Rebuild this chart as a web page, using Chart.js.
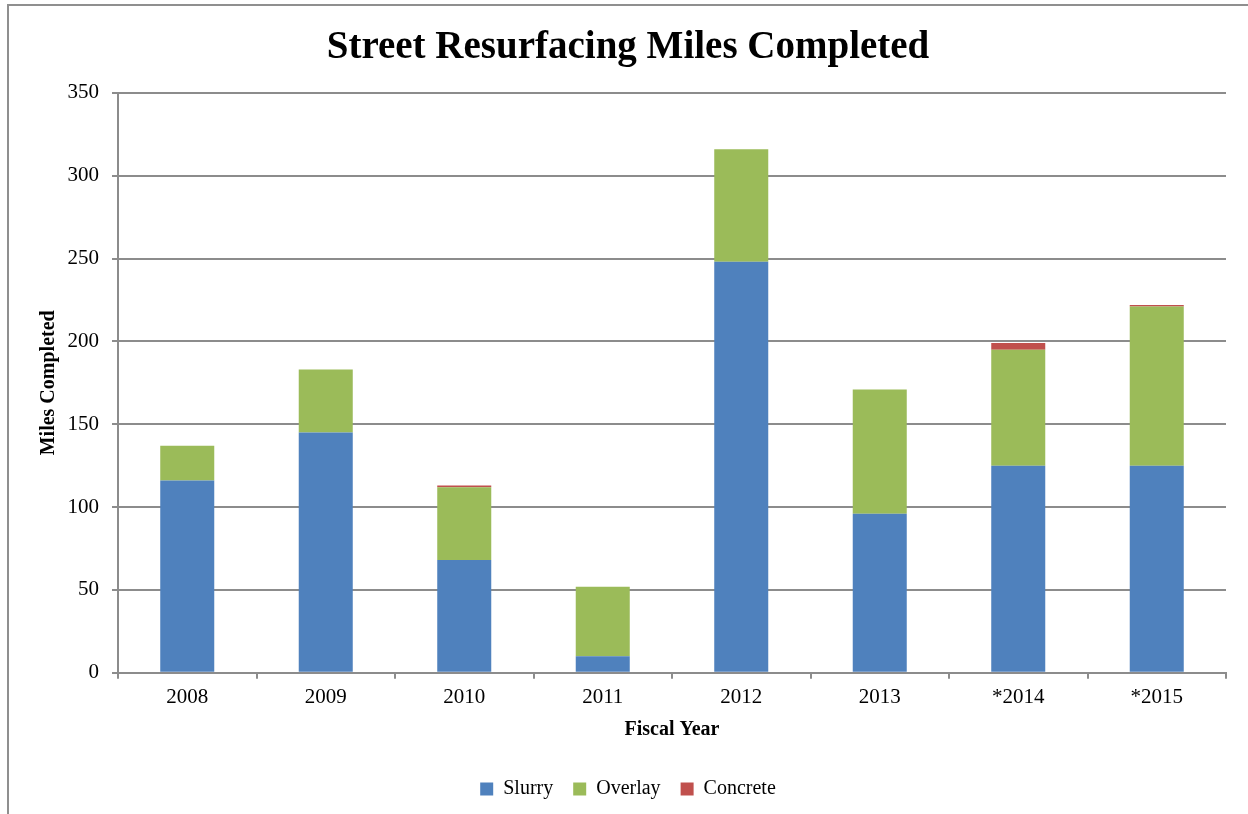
<!DOCTYPE html>
<html>
<head>
<meta charset="utf-8">
<script src="https://cdn.jsdelivr.net/npm/chart.js@4"></script>
<style>
  html, body { margin: 0; padding: 0; background: #fff; overflow: hidden; }
  #frame { position: absolute; left: 7px; top: 4px; width: 1400px; height: 1000px; border: 2px solid #8f8f8f; }
  #wrap { position: absolute; left: 0; top: 0; width: 1248px; height: 814px; }
</style>
</head>
<body>
<div id="frame"></div>
<div id="wrap"><canvas id="myChart" width="1248" height="814"></canvas></div>
<script>
const years = ["2008", "2009", "2010", "2011", "2012", "2013", "*2014", "*2015"];
const slurry = [116, 145, 68, 10, 248, 96, 125, 125];
const overlay = [21, 38, 44, 42, 68, 75, 70, 96];
const concrete = [0, 0, 1, 0, 0, 0, 4, 1];
const yTicks = [0, 50, 100, 150, 200, 250, 300, 350];

const serif = "'Liberation Serif', 'Times New Roman', serif";
const gridColor = "#8c8c8c";

const ctx = document.getElementById("myChart").getContext("2d");
const chart = new Chart(ctx, {
  type: "bar",
  data: {
    labels: years,
    datasets: [
      { label: "Slurry", data: slurry, backgroundColor: "#4f81bd" },
      { label: "Overlay", data: overlay, backgroundColor: "#9bbb59" },
      { label: "Concrete", data: concrete, backgroundColor: "#c0504d" },
    ],
  },
  options: {
    responsive: false,
    devicePixelRatio: 1,
    animation: false,
    layout: { padding: { left: 8, right: 0, top: 0, bottom: 5 } },
    datasets: { bar: { barPercentage: 0.39, categoryPercentage: 1 } },
    plugins: {
      title: {
        display: true,
        text: "Street Resurfacing Miles Completed",
        color: "#000",
        font: { family: serif, size: 39, weight: "bold" },
        padding: { top: 25, bottom: 21 },
      },
      legend: {
        position: "bottom",
        labels: {
          color: "#000",
          font: { family: serif, size: 20 },
          boxWidth: 13,
          boxHeight: 13,
          padding: 20,
        },
      },
      tooltip: { enabled: false },
    },
    scales: {
      x: {
        stacked: true,
        grid: { drawOnChartArea: false, drawTicks: true, tickLength: 6, color: gridColor, lineWidth: 2 },
        border: { color: gridColor, width: 2 },
        ticks: { color: "#000", font: { family: serif, size: 21 }, padding: 6, maxRotation: 0 },
        title: {
          display: true,
          text: "Fiscal Year",
          color: "#000",
          font: { family: serif, size: 20, weight: "bold" },
          padding: { top: 2, bottom: 17 },
        },
      },
      y: {
        stacked: true,
        min: 0,
        max: 350,
        afterBuildTicks: (axis) => {
          axis.ticks = yTicks.map((v) => ({ value: v }));
        },
        afterFit: (axis) => {
          axis.width = 110;
        },
        grid: { color: gridColor, lineWidth: 2, tickLength: 6 },
        border: { color: gridColor, width: 2 },
        ticks: { color: "#000", font: { family: serif, size: 21 }, padding: 13 },
        title: {
          display: true,
          text: "Miles Completed",
          color: "#000",
          font: { family: serif, size: 20, weight: "bold" },
          padding: { top: 29, bottom: 0 },
        },
      },
      // empty strip on the right so the plot ends where the original does
      spacer: {
        type: "linear",
        position: "right",
        display: true,
        afterFit: (axis) => {
          axis.width = 22;
        },
        grid: { display: false },
        border: { display: false },
        ticks: { display: false },
      },
    },
  },
});
</script>
</body>
</html>
